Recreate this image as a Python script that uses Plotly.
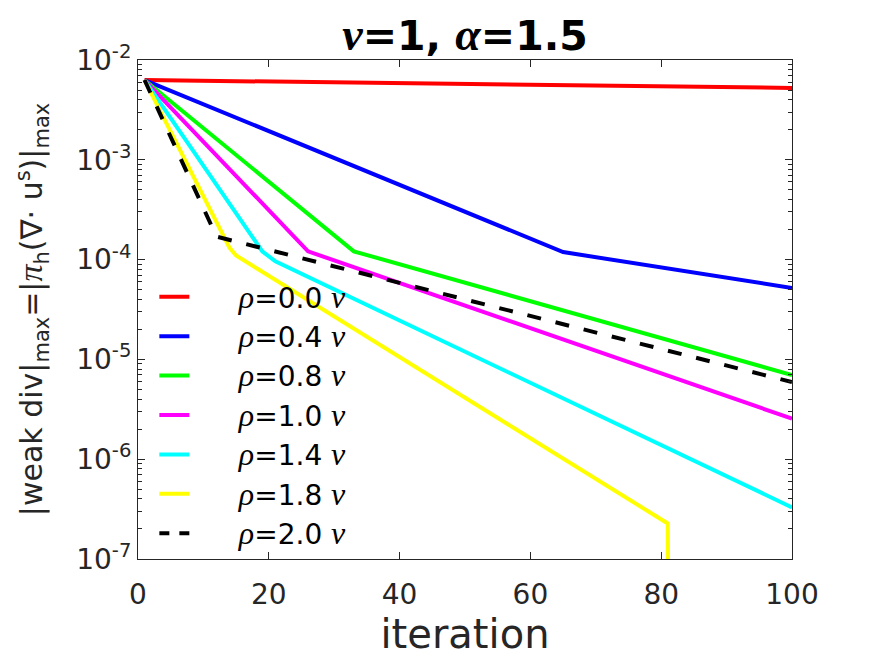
import plotly.graph_objects as go

# ---- data ----
labels = ["0.0", "0.4", "0.8", "1.0", "1.4", "1.8", "2.0"]
colors = ["#ff0000", "#0000ff", "#00ff00", "#ff00ff", "#00ffff", "#ffff00", "#000000"]

rho00_x = [1, 100]
rho00_y = [6.3e-3, 5.25e-3]
rho04_x = [1, 65, 100]
rho04_y = [6.3e-3, 1.19e-4, 5.2e-5]
rho08_x = [1, 33, 100]
rho08_y = [6.3e-3, 1.21e-4, 6.97e-6]
rho10_x = [1, 26, 100]
rho10_y = [6.3e-3, 1.21e-4, 2.55e-6]
rho14_x = [1, 19, 21, 100]
rho14_y = [6.3e-3, 1.21e-4, 9.6e-5, 3.29e-7]
rho18_x = [1, 14, 15, 81, 82]
rho18_y = [6.3e-3, 1.31e-4, 1.1e-4, 2.27e-7, 1e-16]
rho20_x = [1, 12, 100]
rho20_y = [6.3e-3, 1.7e-4, 5.93e-6]

xs = [rho00_x, rho04_x, rho08_x, rho10_x, rho14_x, rho18_x, rho20_x]
ys = [rho00_y, rho04_y, rho08_y, rho10_y, rho14_y, rho18_y, rho20_y]

x_ticks = [0, 20, 40, 60, 80, 100]
y_exps = [-7, -6, -5, -4, -3, -2]

AX = "#262626"
FONT = "DejaVu Sans"
GREEK = "Liberation Serif"
PAD = "\u00a0" * 5

def g(ch, size=None):
    st = f"font-family:{GREEK}"
    if size:
        st += f";font-size:{size}px"
    return f'<span style="{st}"><i>{ch}</i></span>'

fig = go.Figure()
for i, (x, y) in enumerate(zip(xs, ys)):
    name = f"{PAD}{g('ρ', 32)}={labels[i]} {g('ν', 32)}"
    if i == 6:
        # data line with long dashes; legend sample drawn by a legend-only entry
        fig.add_trace(go.Scatter(
            x=x, y=y, mode="lines", showlegend=False,
            line=dict(color=colors[i], width=4, dash="14px,15px"),
        ))
        fig.add_trace(go.Scatter(
            x=[None], y=[None], mode="lines", name=name,
            line=dict(color=colors[i], width=4, dash="10px,10px"),
        ))
    else:
        fig.add_trace(go.Scatter(
            x=x, y=y, mode="lines", name=name,
            line=dict(color=colors[i], width=4),
        ))

minor_vals = [m * 10 ** e for e in range(-7, -2) for m in range(2, 10)]

fig.update_layout(
    width=875, height=656,
    margin=dict(l=130, r=91, t=52, b=105),
    paper_bgcolor="white", plot_bgcolor="white",
    font=dict(family=FONT, color=AX),
    title=dict(
        text=f"<b>{g('ν', 46)}=1, {g('α', 46)}=1.5</b>",
        x=0.5, xref="paper", xanchor="center",
        y=0.958, yref="container", yanchor="middle",
        font=dict(size=41, color="black", family=FONT),
    ),
    showlegend=True,
    legend=dict(
        x=0.025, y=0.575, xanchor="left", yanchor="top",
        bgcolor="rgba(0,0,0,0)", borderwidth=0,
        font=dict(size=28, color="black", family=FONT),
    ),
    xaxis=dict(
        range=[0, 100], tickmode="array", tickvals=x_ticks,
        ticktext=[str(v) for v in x_ticks],
        ticks="inside", ticklen=7, tickcolor=AX,
        showline=True, linecolor=AX, linewidth=1, mirror="ticks",
        showgrid=False, zeroline=False, ticklabelstandoff=10,
        tickfont=dict(size=28, color=AX, family=FONT),
        title=dict(text="iteration", font=dict(size=40, color=AX, family=FONT), standoff=4),
    ),
    yaxis=dict(
        type="log", range=[-7, -2], tickmode="array",
        tickvals=[10.0 ** e for e in y_exps],
        ticktext=[f"10<sup>{e}</sup>" for e in y_exps],
        ticks="inside", ticklen=7, tickcolor=AX,
        showline=True, linecolor=AX, linewidth=1, mirror="ticks",
        showgrid=False, zeroline=False,
        tickfont=dict(size=28, color=AX, family=FONT),
        minor=dict(tickmode="array", tickvals=minor_vals, ticks="inside",
                   ticklen=4, tickcolor=AX, showgrid=False),
        title=dict(
            text=f"|weak div|<sub>max</sub>=|{g('π', 34)}<sub>h</sub>(∇· u<sup>s</sup>)|<sub>max</sub>",
            font=dict(size=30, color=AX, family=FONT), standoff=24,
        ),
    ),
)

fig.write_html("out.html")
